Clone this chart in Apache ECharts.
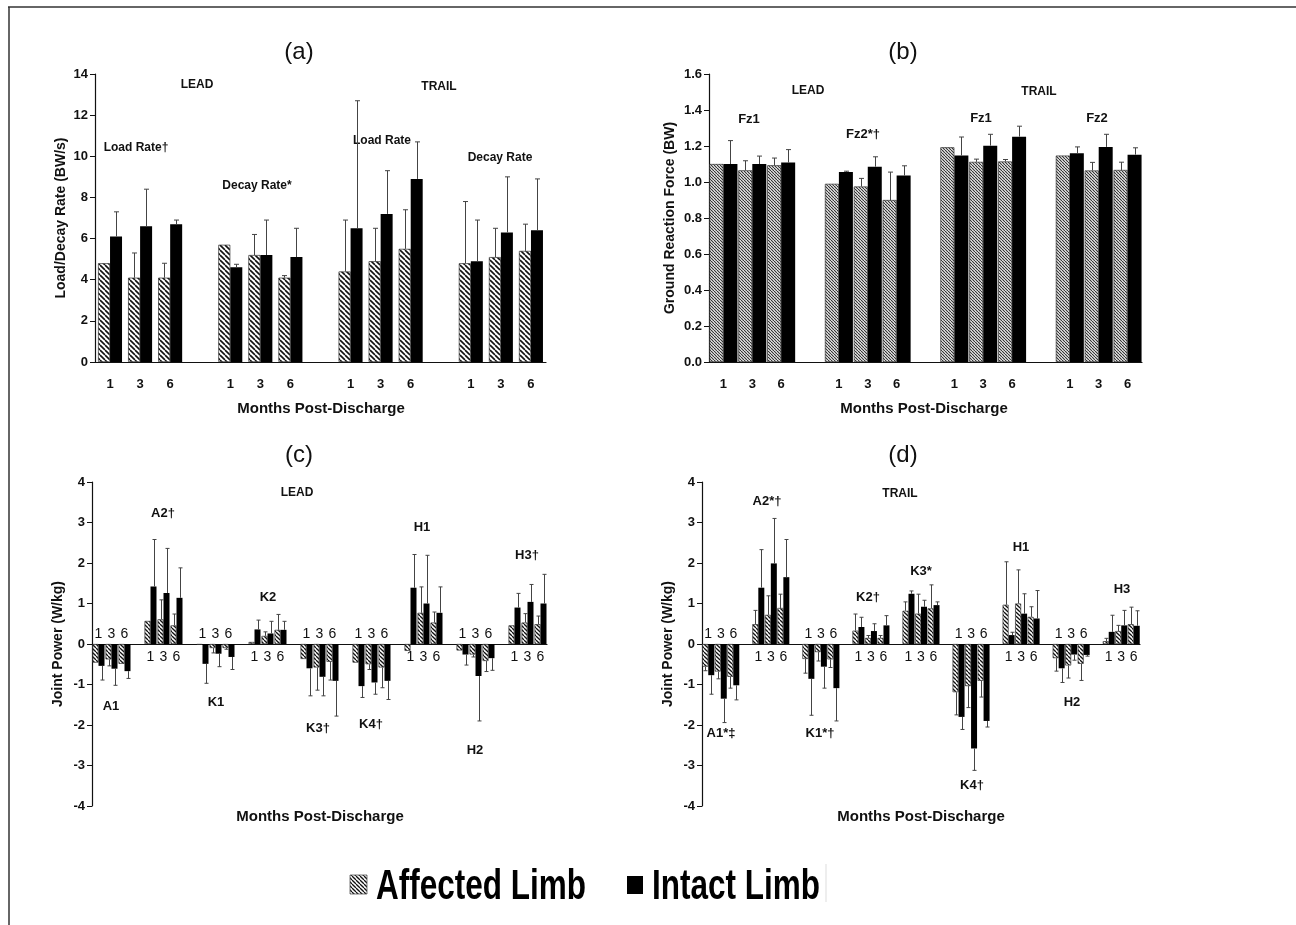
<!DOCTYPE html>
<html><head><meta charset="utf-8">
<script src="https://cdn.jsdelivr.net/npm/echarts@6/dist/echarts.min.js"></script>
<style>html,body{margin:0;padding:0;background:#fff}#chart{width:1296px;height:925px}</style>
</head><body><div id="chart"></div>
<script>
const monthLabels = ['1', '3', '6'];

// Panel (a): Load / decay rate (BW/s), groups: LEAD Load Rate, LEAD Decay Rate, TRAIL Load Rate, TRAIL Decay Rate
const aGroupLabels = ['Load Rate†', 'Decay Rate*', 'Load Rate', 'Decay Rate'];
const aAffected   = [4.8, 4.1, 4.1, 5.7, 5.2, 4.1, 4.4, 4.9, 5.5, 4.8, 5.1, 5.4];
const aAffectedSD = [0, 1.2, 0.7, 0, 1.0, 0.1, 2.5, 1.6, 1.9, 3.0, 1.4, 1.3];
const aIntact     = [6.1, 6.6, 6.7, 4.6, 5.2, 5.1, 6.5, 7.2, 8.9, 4.9, 6.3, 6.4];
const aIntactSD   = [1.2, 1.8, 0.2, 0.15, 1.7, 1.4, 6.2, 2.1, 1.8, 2.0, 2.7, 2.5];

// Panel (b): Ground reaction force (BW), groups: LEAD Fz1, LEAD Fz2, TRAIL Fz1, TRAIL Fz2
const bGroupLabels = ['Fz1', 'Fz2*†', 'Fz1', 'Fz2'];
const bAffected   = [1.10, 1.065, 1.093, 0.99, 0.975, 0.90, 1.193, 1.112, 1.114, 1.147, 1.064, 1.067];
const bAffectedSD = [0, 0.053, 0.04, 0, 0.045, 0.155, 0, 0.015, 0.011, 0, 0.045, 0.043];
const bIntact     = [1.10, 1.10, 1.108, 1.055, 1.085, 1.036, 1.147, 1.202, 1.252, 1.16, 1.195, 1.152];
const bIntactSD   = [0.13, 0.044, 0.072, 0.005, 0.055, 0.054, 0.103, 0.063, 0.058, 0.035, 0.07, 0.038];

// Panel (c): LEAD joint power (W/kg), groups A1 A2 K1 K2 K3 K4 H1 H2 H3
const cGroupLabels = ['A1', 'A2†', 'K1', 'K2', 'K3†', 'K4†', 'H1', 'H2', 'H3†'];
const cLabelSide   = ['up', 'down', 'up', 'down', 'up', 'up', 'down', 'up', 'down'];
const cAffected   = [-0.46, -0.38, -0.49,  0.57, 0.61, 0.46,  -0.02, -0.10, -0.10,  0.05, 0.20, 0.35,
                     -0.37, -0.58, -0.44,  -0.46, -0.50, -0.58,  -0.17, 0.77, 0.53,  -0.16, -0.26, -0.42,  0.46, 0.53, 0.49];
const cAffectedSD = [0, 0.16, 0,  0, 0.48, 0.28,  0, 0.12, 0.03,  0, 0.10, 0.38,
                     0, 0.56, 0.45,  0, 0.13, 0.50,  0, 0.64, 0.26,  0, 0.06, 0.26,  0, 0.22, 0.20];
const cIntact     = [-0.54, -0.61, -0.67,  1.42, 1.26, 1.14,  -0.49, -0.24, -0.32,  0.36, 0.26, 0.35,
                     -0.60, -0.81, -0.91,  -1.04, -0.95, -0.91,  1.39, 1.00, 0.77,  -0.26, -0.79, -0.35,  0.90, 1.04, 1.00];
const cIntactSD   = [0.35, 0.41, 0.18,  1.16, 1.10, 0.74,  0.48, 0.32, 0.31,  0.23, 0.30, 0.21,
                     0.68, 0.47, 0.87,  0.28, 0.29, 0.46,  0.82, 1.19, 0.64,  0.26, 1.11, 0.30,  0.35, 0.43, 0.72];

// Panel (d): TRAIL joint power (W/kg)
const dGroupLabels = ['A1*‡', 'A2*†', 'K1*†', 'K2†', 'K3*', 'K4†', 'H1', 'H2', 'H3'];
const dLabelSide   = ['up', 'down', 'up', 'down', 'down', 'up', 'down', 'up', 'down'];
const dAffected   = [-0.56, -0.68, -0.81,  0.49, 0.72, 0.89,  -0.37, -0.20, -0.38,  0.33, 0.15, 0.15,
                     0.82, 0.75, 0.88,  -1.19, -1.04, -0.91,  0.97, 1.00, 0.67,  -0.35, -0.53, -0.49,  0.07, 0.32, 0.49];
const dAffectedSD = [0.10, 0.18, 0.28,  0.34, 0.47, 0.34,  0.35, 0.22, 0.20,  0.41, 0.06, 0.06,
                     0.22, 0.48, 0.58,  0.56, 0.53, 0.40,  1.06, 0.83, 0.25,  0.32, 0.31, 0.41,  0.07, 0.14, 0.42];
const dIntact     = [-0.77, -1.35, -1.02,  1.39, 1.99, 1.65,  -0.86, -0.56, -1.09,  0.42, 0.32, 0.46,
                     1.24, 0.92, 0.96,  -1.80, -2.58, -1.90,  0.22, 0.75, 0.63,  -0.60, -0.26, -0.27,  0.30, 0.46, 0.45];
const dIntactSD   = [0.47, 0.59, 0.36,  0.94, 1.11, 0.93,  0.90, 0.53, 0.81,  0.24, 0.18, 0.24,
                     0.07, 0.16, 0.08,  0.31, 0.54, 0.15,  0.07, 0.49, 0.69,  0.35, 0.14, 0.03,  0.41, 0.37, 0.37];

const seriesNames = ['Affected Limb', 'Intact Limb'];
const xTitle = 'Months Post-Discharge';

const F = '"Liberation Sans", Arial, Helvetica, sans-serif';

function hatch(size, lw, fg) {
  const c = document.createElement('canvas');
  c.width = size; c.height = size;
  const g = c.getContext('2d');
  g.fillStyle = '#ffffff'; g.fillRect(0, 0, size, size);
  g.strokeStyle = fg; g.lineWidth = lw;
  for (let k = -1; k <= 1; k++) {
    g.beginPath(); g.moveTo(k * size, 0); g.lineTo(k * size + size, size); g.stroke();
  }
  return { image: c, repeat: 'repeat' };
}

function buildCats(nGroups) {
  const out = [];
  for (let g = 0; g < nGroups; g++) {
    monthLabels.forEach(m => out.push(m));
    if (g < nGroups - 1) out.push('');
  }
  return out;
}
function expand(arr) {
  const out = []; const n = arr.length / 3;
  for (let g = 0; g < n; g++) {
    for (let k = 0; k < 3; k++) out.push(arr[g * 3 + k]);
    if (g < n - 1) out.push('-');
  }
  return out;
}
function errData(vals, sds) {
  return vals.map((v, i) => [Math.floor(i / 3) * 4 + i % 3, v, sds[i]]);
}
function errRender(barW, side, capW) {
  return function (params, api) {
    const idx = api.value(0), v = api.value(1), sd = api.value(2);
    if (!(sd > 0)) return null;
    const end = v >= 0 ? v + sd : v - sd;
    const p0 = api.coord([idx, v]), p1 = api.coord([idx, end]);
    const cx = Math.round(p0[0] + side * barW / 2) + 0.5;
    return {
      type: 'group', children: [
        { type: 'line', shape: { x1: cx, y1: p0[1], x2: cx, y2: p1[1] }, style: { stroke: '#444', lineWidth: 1 } },
        { type: 'line', shape: { x1: cx - capW / 2, y1: p1[1], x2: cx + capW / 2, y2: p1[1] }, style: { stroke: '#444', lineWidth: 1 } }
      ]
    };
  };
}
// month tick labels placed just above or just below the zero line, per group
function monthLabelSeries(xi, yi, sides) {
  const data = [];
  sides.forEach((s, g) => monthLabels.forEach((m, k) => data.push([g * 4 + k, 0, k, s === 'up' ? 1 : 0])));
  return {
    type: 'custom', xAxisIndex: xi, yAxisIndex: yi, data, silent: true, z: 6,
    renderItem: (params, api) => {
      const pt = api.coord([api.value(0), 0]);
      const up = api.value(3) === 1;
      return { type: 'text', x: pt[0], y: pt[1] + (up ? -10 : 13),
        style: { text: monthLabels[api.value(2)], font: '14px ' + F, fill: '#111', align: 'center', verticalAlign: 'middle', textAlign: 'center', textVerticalAlign: 'middle' } };
    }
  };
}

const catsAB = buildCats(4);
const catsCD = buildCats(9);

function yAx(grid, min, max, interval, name, gap, fmt) {
  return {
    type: 'value', gridIndex: grid, min, max, interval, name, nameLocation: 'middle', nameGap: gap,
    nameTextStyle: { fontFamily: F, fontWeight: 'bold', fontSize: 14, color: '#111' },
    axisLine: { show: true, lineStyle: { color: '#111', width: 1.2 } },
    axisTick: { show: true, length: 5, lineStyle: { color: '#111', width: 1 } },
    splitLine: { show: false },
    axisLabel: { fontFamily: F, fontWeight: 'bold', fontSize: 13, color: '#111', margin: 7, formatter: fmt }
  };
}
function xAxAB(grid) {
  return {
    type: 'category', gridIndex: grid, data: catsAB,
    axisLine: { onZero: true, lineStyle: { color: '#111', width: 1.2 } },
    axisTick: { show: false },
    axisLabel: { interval: 0, margin: 16, fontFamily: F, fontWeight: 'bold', fontSize: 13, color: '#111' }
  };
}
function xAxCD(grid) {
  return {
    type: 'category', gridIndex: grid, data: catsCD,
    axisLine: { onZero: true, lineStyle: { color: '#111', width: 1.2 } },
    axisTick: { show: false },
    axisLabel: { show: false }
  };
}

const patA = hatch(5, 1.6, '#111');
const patB = hatch(3, 1.2, '#333');
const patC = hatch(4, 1.3, '#111');
const patLegend = hatch(4, 1.3, '#111');

function barPair(xi, yi, aff, aSD, intact, iSD, pat, barW, capW) {
  return [
    { name: seriesNames[0], type: 'bar', xAxisIndex: xi, yAxisIndex: yi, data: expand(aff), barWidth: barW, barGap: '0%',
      itemStyle: { color: pat, borderColor: '#333', borderWidth: 0.7 } },
    { name: seriesNames[1], type: 'bar', xAxisIndex: xi, yAxisIndex: yi, data: expand(intact), barWidth: barW, barGap: '0%',
      itemStyle: { color: '#000' } },
    { type: 'custom', xAxisIndex: xi, yAxisIndex: yi, z: 5, data: errData(aff, aSD), renderItem: errRender(barW, -1, capW), silent: true },
    { type: 'custom', xAxisIndex: xi, yAxisIndex: yi, z: 5, data: errData(intact, iSD), renderItem: errRender(barW, 1, capW), silent: true }
  ];
}

function txt(x, y, text, size, weight) {
  return { type: 'text', x, y, silent: true,
    style: { text, font: (weight || 'bold') + ' ' + size + 'px ' + F, fill: '#111', align: 'center', verticalAlign: 'middle', textAlign: 'center', textVerticalAlign: 'middle' } };
}

const annotations = [
  txt(299, 52, '(a)', 24, 'normal'), txt(903, 52, '(b)', 24, 'normal'),
  txt(299, 455, '(c)', 24, 'normal'), txt(903, 455, '(d)', 24, 'normal'),
  txt(197, 85, 'LEAD', 12), txt(439, 87, 'TRAIL', 12),
  txt(136, 148, aGroupLabels[0], 12), txt(257, 186, aGroupLabels[1], 12),
  txt(382, 141, aGroupLabels[2], 12), txt(500, 158, aGroupLabels[3], 12),
  txt(808, 91, 'LEAD', 12), txt(1039, 92, 'TRAIL', 12),
  txt(749, 119, bGroupLabels[0], 13), txt(863, 134, bGroupLabels[1], 13),
  txt(981, 118, bGroupLabels[2], 13), txt(1097, 118, bGroupLabels[3], 13),
  txt(297, 493, 'LEAD', 12), txt(900, 494, 'TRAIL', 12),
  txt(111, 706, cGroupLabels[0], 13), txt(163, 513, cGroupLabels[1], 13), txt(216, 702, cGroupLabels[2], 13),
  txt(268, 597, cGroupLabels[3], 13), txt(318, 728, cGroupLabels[4], 13), txt(371, 724, cGroupLabels[5], 13),
  txt(422, 527, cGroupLabels[6], 13), txt(475, 750, cGroupLabels[7], 13), txt(527, 555, cGroupLabels[8], 13),
  txt(721, 733, dGroupLabels[0], 13), txt(767, 501, dGroupLabels[1], 13), txt(820, 733, dGroupLabels[2], 13),
  txt(868, 597, dGroupLabels[3], 13), txt(921, 571, dGroupLabels[4], 13), txt(972, 785, dGroupLabels[5], 13),
  txt(1021, 547, dGroupLabels[6], 13), txt(1072, 702, dGroupLabels[7], 13), txt(1122, 589, dGroupLabels[8], 13),
  txt(321, 409, xTitle, 15), txt(924, 409, xTitle, 15),
  txt(320, 817, xTitle, 15), txt(921, 817, xTitle, 15)
];

const frame = [
  { type: 'line', shape: { x1: 8, y1: 7, x2: 1296, y2: 7 }, style: { stroke: '#333', lineWidth: 1.5 }, silent: true },
  { type: 'line', shape: { x1: 9, y1: 7, x2: 9, y2: 925 }, style: { stroke: '#333', lineWidth: 1.5 }, silent: true }
];

const legendG = [
  { type: 'rect', shape: { x: 350, y: 875, width: 17, height: 19 }, style: { fill: patLegend, stroke: '#555', lineWidth: 0.8 }, silent: true },
  { type: 'text', x: 376, y: 887, scaleX: 0.75, silent: true,
    style: { text: seriesNames[0], font: 'bold 42px ' + F, fill: '#000', align: 'left', verticalAlign: 'middle', textAlign: 'left', textVerticalAlign: 'middle' } },
  { type: 'rect', shape: { x: 627, y: 876, width: 16, height: 18 }, style: { fill: '#000' }, silent: true },
  { type: 'text', x: 652, y: 887, scaleX: 0.75, silent: true,
    style: { text: seriesNames[1], font: 'bold 42px ' + F, fill: '#000', align: 'left', verticalAlign: 'middle', textAlign: 'left', textVerticalAlign: 'middle' } },
  { type: 'line', shape: { x1: 826, y1: 864, x2: 826, y2: 902 }, style: { stroke: '#ddd', lineWidth: 1 }, silent: true }
];

const chart = echarts.init(document.getElementById('chart'), null, { renderer: 'canvas' });
chart.setOption({
  animation: false,
  backgroundColor: '#fff',
  grid: [
    { left: 95, top: 74, width: 451, height: 288 },
    { left: 709, top: 74, width: 433, height: 288 },
    { left: 92, top: 482, width: 455, height: 324 },
    { left: 702, top: 482, width: 438, height: 324 }
  ],
  xAxis: [xAxAB(0), xAxAB(1), xAxCD(2), xAxCD(3)],
  yAxis: [
    yAx(0, 0, 14, 2, 'Load/Decay Rate (BW/s)', 27, v => String(v)),
    yAx(1, 0, 1.6, 0.2, 'Ground Reaction Force (BW)', 32, v => v.toFixed(1)),
    yAx(2, -4, 4, 1, 'Joint Power (W/kg)', 27, v => String(v)),
    yAx(3, -4, 4, 1, 'Joint Power (W/kg)', 27, v => String(v))
  ],
  series: [
    ...barPair(0, 0, aAffected, aAffectedSD, aIntact, aIntactSD, patA, 12, 5),
    ...barPair(1, 1, bAffected, bAffectedSD, bIntact, bIntactSD, patB, 14, 5),
    ...barPair(2, 2, cAffected, cAffectedSD, cIntact, cIntactSD, patC, 6, 4),
    ...barPair(3, 3, dAffected, dAffectedSD, dIntact, dIntactSD, patC, 6, 4),
    monthLabelSeries(2, 2, cLabelSide),
    monthLabelSeries(3, 3, dLabelSide)
  ],
  graphic: [...frame, ...annotations, ...legendG]
});
</script>
</body></html>
